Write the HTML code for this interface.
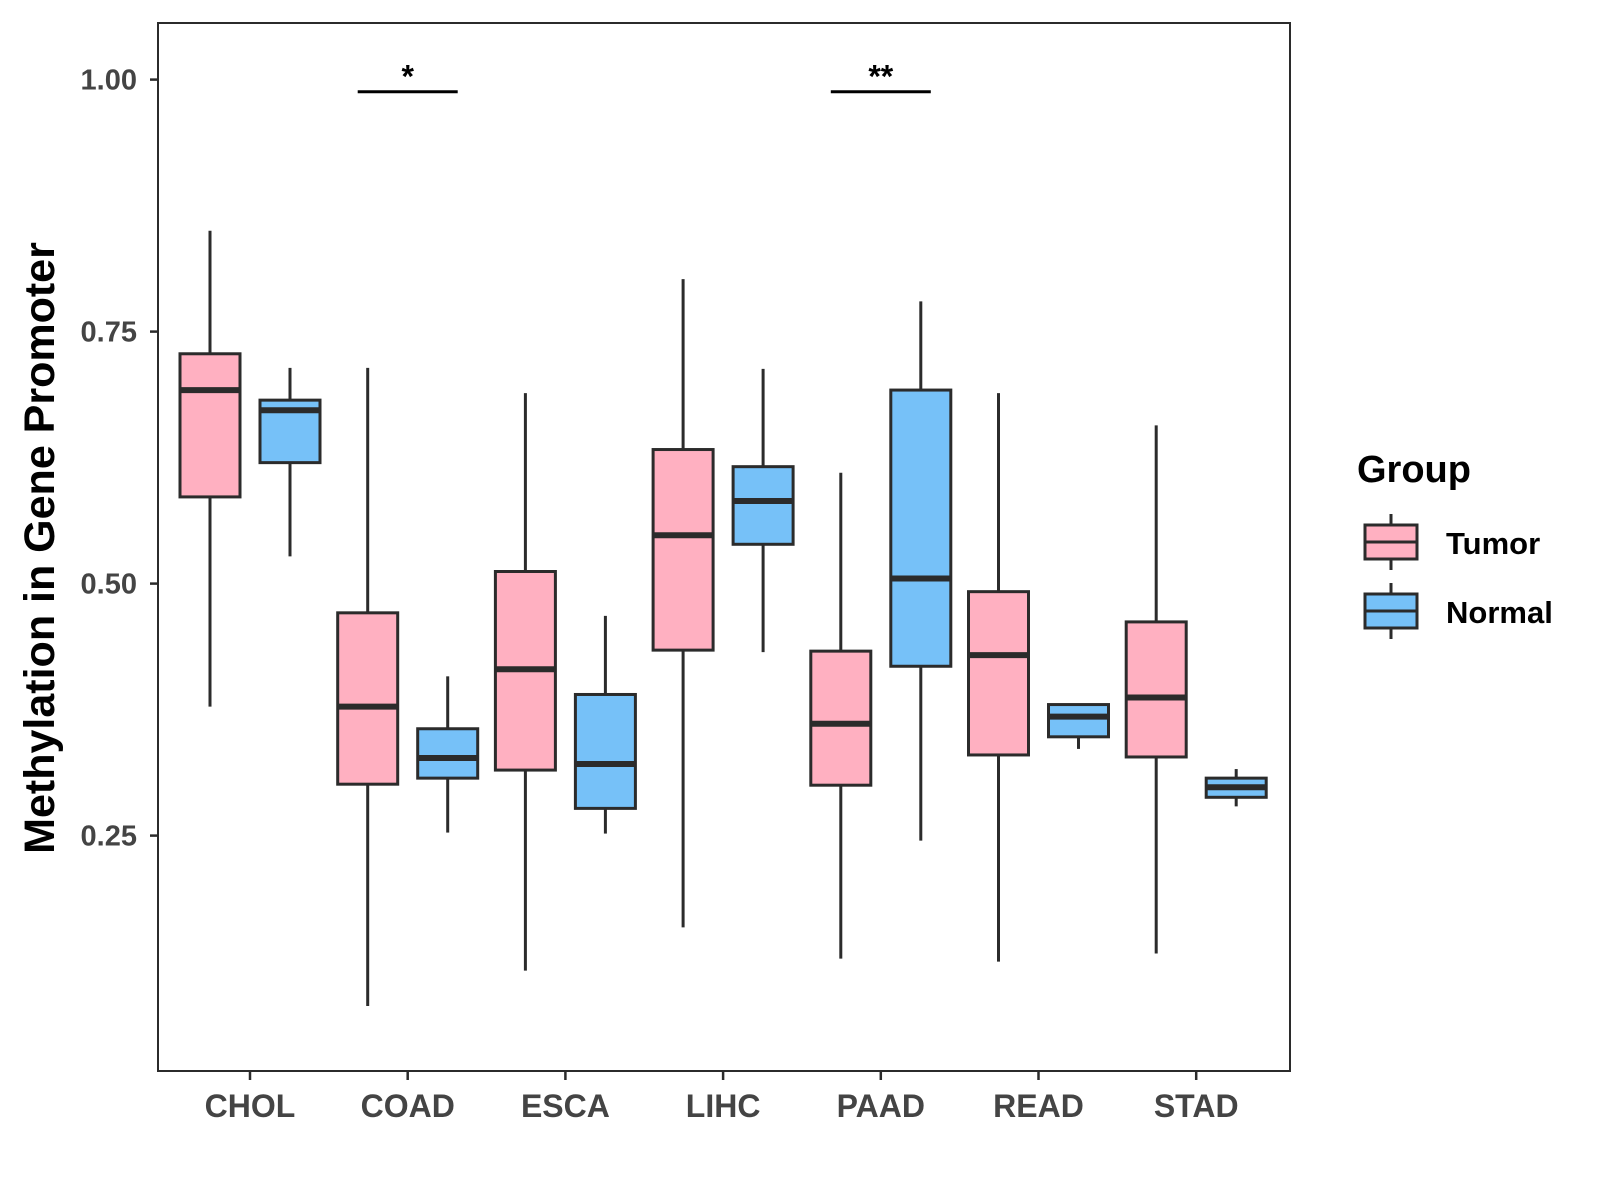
<!DOCTYPE html>
<html><head><meta charset="utf-8"><style>
body{margin:0;background:#fff;}
svg{display:block;font-family:"Liberation Sans",sans-serif;}
</style></head><body>
<svg id="chart" width="1600" height="1200" viewBox="0 0 1600 1200">
<rect x="0" y="0" width="1600" height="1200" fill="#fff"/>
<g id="plot"></g>
<rect x="158" y="23" width="1132" height="1048" fill="none" stroke="#2b2b2b" stroke-width="2"/>
<text x="0" y="0" transform="translate(54,548) rotate(-90)" text-anchor="middle" font-size="43" font-weight="bold" fill="#000">Methylation in Gene Promoter</text>
<g>
<text x="1357" y="482" font-size="38" font-weight="bold" fill="#000">Group</text>
<g>
<line x1="1391" y1="514" x2="1391" y2="570" stroke="#2b2b2b" stroke-width="3"/>
<rect x="1365" y="525" width="52" height="34" fill="#FFB0C1" stroke="#2b2b2b" stroke-width="3"/>
<line x1="1365" y1="542" x2="1417" y2="542" stroke="#2b2b2b" stroke-width="3"/>
<text x="1446" y="554" font-size="31" font-weight="bold" fill="#000">Tumor</text>
</g>
<g>
<line x1="1391" y1="583" x2="1391" y2="639" stroke="#2b2b2b" stroke-width="3"/>
<rect x="1365" y="594" width="52" height="34" fill="#76C1F8" stroke="#2b2b2b" stroke-width="3"/>
<line x1="1365" y1="611" x2="1417" y2="611" stroke="#2b2b2b" stroke-width="3"/>
<text x="1446" y="623" font-size="31" font-weight="bold" fill="#000">Normal</text>
</g>
</g>
</svg>
<script>
const categories = ["CHOL","COAD","ESCA","LIHC","PAAD","READ","STAD"];
// [whiskerLow, Q1, median, Q3, whiskerHigh]
const tumorStats = [
 [0.378,0.586,0.692,0.728,0.85],
 [0.081,0.301,0.378,0.471,0.714],
 [0.116,0.315,0.415,0.512,0.689],
 [0.159,0.434,0.548,0.633,0.802],
 [0.128,0.300,0.361,0.433,0.610],
 [0.125,0.330,0.429,0.492,0.689],
 [0.133,0.328,0.387,0.462,0.657]
];
const normalStats = [
 [0.527,0.620,0.672,0.682,0.714],
 [0.253,0.307,0.327,0.356,0.408],
 [0.252,0.277,0.321,0.390,0.468],
 [0.432,0.539,0.582,0.616,0.713],
 [0.245,0.418,0.505,0.692,0.780],
 [0.336,0.348,0.368,0.380,0.380],
 [0.279,0.288,0.298,0.307,0.316]
];
const yTicks = [0.25,0.50,0.75,1.00];
const yTickLabels = ["0.25","0.50","0.75","1.00"];
const sigCats = ["COAD","PAAD"];
const sigLabels = ["*","**"];
const sigLevel = 0.988;

const NS="http://www.w3.org/2000/svg";
const svg=document.getElementById('chart');
const plot=document.getElementById('plot');
function y(v){return 79.6+(1-v)*1008;}
function x(i){return 250+i*157.7;}
function mk(tag,attrs,parent){const e=document.createElementNS(NS,tag);for(const k in attrs)e.setAttribute(k,attrs[k]);(parent||plot).appendChild(e);return e;}

yTicks.forEach((t,i)=>{
 const tk=mk('line',{x1:150,x2:158,y1:y(t),y2:y(t),stroke:'#2b2b2b','stroke-width':2.5});
 
 
 const tx=mk('text',{x:137,y:y(t)+10,'text-anchor':'end','font-size':29,'font-weight':'bold',fill:'#444'});
 tx.textContent=yTickLabels[i];
 
 
});
categories.forEach((c,i)=>{
 const tk=mk('line',{x1:x(i),x2:x(i),y1:1071,y2:1080,stroke:'#2b2b2b','stroke-width':2.5});
 
 
 const tx=mk('text',{x:x(i),y:1117,'text-anchor':'middle','font-size':32,'font-weight':'bold',fill:'#444'});
 tx.textContent=c;
 
 
});
function box(cx,s,fill,name){
 const g=mk('g',{});
 
 
 const w=60;
 mk('line',{x1:cx,x2:cx,y1:y(s[4]),y2:y(s[3]),stroke:'#2b2b2b','stroke-width':3},g);
 mk('line',{x1:cx,x2:cx,y1:y(s[1]),y2:y(s[0]),stroke:'#2b2b2b','stroke-width':3},g);
 mk('rect',{x:cx-w/2,y:y(s[3]),width:w,height:y(s[1])-y(s[3]),fill:fill,stroke:'#2b2b2b','stroke-width':3},g);
 mk('line',{x1:cx-w/2,x2:cx+w/2,y1:y(s[2]),y2:y(s[2]),stroke:'#2b2b2b','stroke-width':6},g);
}
categories.forEach((c,i)=>{
 box(x(i)-40,tumorStats[i],'#FFB0C1','box-tumor-'+c.toLowerCase());
 box(x(i)+40,normalStats[i],'#76C1F8','box-normal-'+c.toLowerCase());
});
sigCats.forEach((c,j)=>{
 const i=categories.indexOf(c);
 const l=mk('line',{x1:x(i)-50,x2:x(i)+50,y1:y(sigLevel),y2:y(sigLevel),stroke:'#000','stroke-width':3});
 
 
 const t=mk('text',{x:x(i),y:y(sigLevel)-4,'text-anchor':'middle','font-size':32,'font-weight':'bold',fill:'#000'});
 t.textContent=sigLabels[j];
 
 
});
</script>
</body></html>
